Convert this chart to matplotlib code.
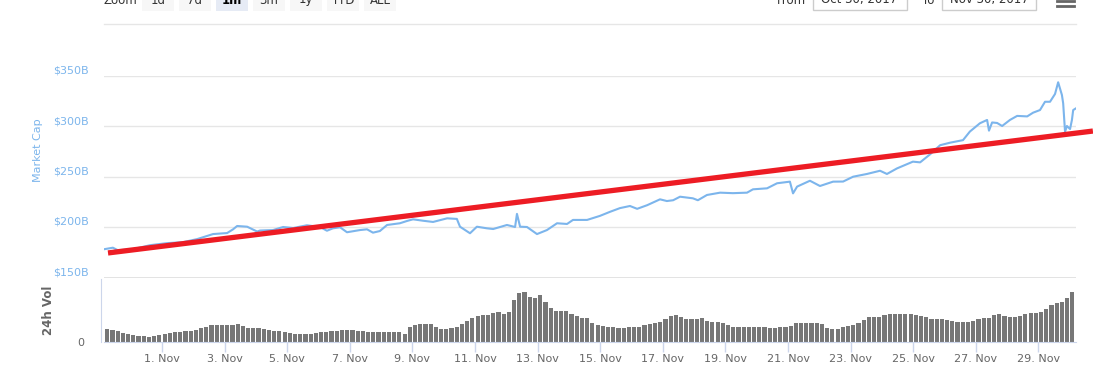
import matplotlib
matplotlib.use("Agg")
import matplotlib.pyplot as plt
import matplotlib.transforms as mtransforms
from matplotlib.patches import Rectangle

# total market cap ($B), x = days since 1 Nov 2017 00:00
cap_days = [-1.85, -1.57, -1.41, -0.93, -0.38, 0.16, 0.67, 1.12, 1.63, 1.85,
            2.08, 2.27, 2.40, 2.72, 3.04, 3.13, 3.55, 3.87, 4.19, 4.63,
            5.05, 5.27, 5.46, 5.69, 5.91, 6.33, 6.55, 6.74, 6.96, 7.19,
            7.60, 7.83, 8.02, 8.34, 8.66, 9.11, 9.42, 9.52, 9.84, 10.06,
            10.38, 10.58, 11.02, 11.28, 11.34, 11.44, 11.66, 11.98, 12.30, 12.62,
            12.94, 13.13, 13.58, 13.99, 14.31, 14.63, 14.95, 15.18, 15.50, 15.91,
            16.13, 16.33, 16.55, 16.96, 17.12, 17.41, 17.83, 18.24, 18.69, 18.88,
            19.33, 19.65, 20.06, 20.16, 20.29, 20.70, 21.02, 21.44, 21.76, 22.08,
            22.52, 22.94, 23.16, 23.48, 23.99, 24.22, 24.54, 24.86, 25.18, 25.59,
            25.81, 26.13, 26.36, 26.42, 26.52, 26.68, 26.84, 27.09, 27.32, 27.64,
            27.83, 28.05, 28.21, 28.37, 28.53, 28.63, 28.69, 28.75, 28.79, 28.85,
            28.91, 29.01, 29.07, 29.11, 29.20]
cap_values = [178.0, 179.5, 177.0, 178.0, 182.0, 184.0, 185.0, 188.0, 193.0, 193.5,
              194.0, 197.7, 201.0, 200.3, 195.5, 196.5, 197.0, 200.0, 199.0, 201.7,
              200.0, 196.3, 198.7, 199.7, 194.8, 197.0, 197.7, 194.4, 196.0, 202.0,
              203.7, 206.0, 207.6, 206.2, 205.0, 208.6, 208.0, 200.3, 193.8, 200.3,
              198.7, 198.0, 202.0, 200.0, 213.0, 200.3, 200.0, 193.0, 197.0, 203.7,
              203.0, 207.0, 207.0, 211.0, 215.0, 218.7, 220.8, 218.0, 221.6, 227.4,
              225.7, 226.5, 230.0, 228.4, 226.5, 231.7, 234.0, 233.5, 234.0, 237.3,
              238.3, 243.3, 244.9, 233.3, 240.0, 245.8, 240.6, 244.9, 245.0, 249.8,
              252.5, 255.7, 252.5, 258.0, 264.7, 264.0, 272.0, 281.0, 283.5, 286.0,
              294.5, 302.7, 306.0, 295.4, 303.5, 303.0, 300.0, 306.0, 310.0, 309.5,
              313.2, 315.8, 324.0, 324.0, 331.7, 343.3, 337.0, 330.7, 322.5, 294.3,
              300.0, 297.0, 306.0, 315.8, 317.5]

# 24h volume ($B), one bar every 4 hours from 30 Oct 04:00
vol_start = -1.8333
vol_step = 1 / 6
vol_values = [3.8, 3.5, 3.2, 2.7, 2.4, 2.1,
              1.8, 1.7, 1.5, 1.7, 2.1, 2.3,
              2.6, 2.9, 3.0, 3.3, 3.3, 3.6,
              4.1, 4.5, 5.0, 5.0, 5.0, 5.0,
              5.0, 5.3, 4.7, 4.1, 4.1, 4.1,
              3.9, 3.5, 3.2, 3.2, 3.0, 2.6,
              2.2, 2.2, 2.3, 2.3, 2.6, 2.8,
              3.0, 3.3, 3.3, 3.5, 3.5, 3.5,
              3.3, 3.2, 3.0, 3.0, 3.0, 3.0,
              3.0, 3.0, 2.9, 2.4, 4.5, 5.1,
              5.2, 5.2, 5.3, 4.5, 3.9, 3.8,
              4.1, 4.5, 5.4, 6.2, 7.1, 7.8,
              8.0, 8.0, 8.6, 8.8, 8.4, 9.0,
              12.6, 14.7, 15.0, 13.5, 13.2, 14.0,
              12.0, 10.2, 9.3, 9.3, 9.2, 8.4,
              7.8, 7.2, 7.1, 5.7, 5.0, 4.7,
              4.3, 4.3, 4.2, 4.2, 4.3, 4.3,
              4.4, 5.0, 5.4, 5.7, 6.0, 6.9,
              7.8, 8.0, 7.4, 6.8, 6.7, 6.7,
              7.0, 6.3, 5.8, 5.8, 5.7, 5.1,
              4.3, 4.3, 4.3, 4.3, 4.3, 4.3,
              4.3, 4.2, 4.2, 4.3, 4.3, 4.8,
              5.7, 5.7, 5.7, 5.7, 5.7, 5.4,
              4.2, 3.8, 3.9, 4.5, 4.8, 5.0,
              5.7, 6.6, 7.4, 7.4, 7.4, 8.0,
              8.3, 8.3, 8.3, 8.3, 8.3, 8.0,
              7.7, 7.4, 6.8, 6.8, 6.8, 6.5,
              6.2, 5.9, 5.9, 5.9, 6.3, 6.9,
              7.0, 7.2, 8.0, 8.3, 7.7, 7.4,
              7.4, 7.7, 8.3, 8.6, 8.7, 9.0,
              9.9, 11.0, 11.5, 11.9, 13.0, 14.9]

tick_days = [1, 3, 5, 7, 9, 11, 13, 15, 17, 19, 21, 23, 25, 27, 29]
tick_labels = [f"{d}. Nov" for d in tick_days]
cap_ticks = [150, 200, 250, 300, 350]
cap_labels = ["\\$150B", "\\$200B", "\\$250B", "\\$300B", "\\$350B"]

# hand-drawn red trend line (start / end)
trend_days = [-1.725, 29.74]
trend_values = [174.3, 295.0]

zoom_buttons = ["1d", "7d", "1m", "3m", "1y", "YTD", "ALL"]
date_from = "Oct 30, 2017"
date_to = "Nov 30, 2017"

W, H = 1093, 389
BLUE = "#7cb5ec"
AXIS = "#ccd6eb"
GRID = "#e6e6e6"
LABEL = "#666666"


def px(x, y):
    return x / W, 1 - y / H


fig = plt.figure(figsize=(W / 100, H / 100), dpi=100)
fig.patch.set_facecolor("white")

x_lo, x_hi = -1.853, 29.20

# --- market cap panel ---
ax = fig.add_axes([104 / W, 1 - 277.5 / H, 972 / W, 202 / H])
ax.plot(cap_days, cap_values, color=BLUE, lw=1.5, solid_joinstyle="round", zorder=3)
ax.set_xlim(x_lo, x_hi)
ax.set_ylim(150, 350)
ax.set_yticks(cap_ticks)
ax.set_yticklabels(cap_labels)
ax.set_xticks([])
ax.grid(axis="y", color=GRID, lw=1)
for s in ax.spines.values():
    s.set_visible(False)
ax.tick_params(axis="y", length=0, pad=10.8, labelsize=8, labelcolor=BLUE)
up = mtransforms.ScaledTranslation(0, 6 / 100, fig.dpi_scale_trans)
for t in ax.yaxis.get_major_ticks():
    t.label1.set_transform(t.label1.get_transform() + up)
ax.axhline(150, color="#e0e0e0", lw=2, zorder=1)

# red trend line, runs past the right edge
ax.plot(trend_days, trend_values, color="#ed1c24", lw=3.8,
        solid_capstyle="butt", clip_on=False, zorder=4)

# --- volume panel ---
vx = fig.add_axes([104 / W, 1 - 341.5 / H, 972 / W, 62.5 / H])
centers = [vol_start + (i + 0.5) * vol_step for i in range(len(vol_values))]
vx.bar(centers, vol_values, width=vol_step * 0.8, color="#777777", lw=0)
vx.set_xlim(x_lo, x_hi)
vx.set_ylim(0, 18.75)
vx.set_yticks([0])
vx.set_yticklabels(["0"])
vx.set_xticks([d - 1 for d in tick_days])
vx.set_xticklabels(tick_labels)
vx.tick_params(axis="x", length=7.2, width=1, color=AXIS, labelsize=8,
               labelcolor=LABEL, pad=1.5)
vx.tick_params(axis="y", length=0, pad=12.5, labelsize=8, labelcolor=LABEL)
for t in vx.yaxis.get_major_ticks():
    t.label1.set_transform(t.label1.get_transform() + up)
for k in ["top", "right"]:
    vx.spines[k].set_visible(False)
vx.spines["left"].set_color(AXIS)
vx.spines["bottom"].set_color(AXIS)
vx.spines["left"].set_position(("outward", 2))

fig.text(*px(38, 150), "Market Cap", rotation=90, color=BLUE, fontsize=8,
         ha="center", va="center")
fig.text(*px(49, 310), "24h Vol", rotation=90, color=LABEL, fontsize=8.5,
         fontweight="bold", ha="center", va="center")

# --- range selector strip (cut off at the top) ---
fig.add_artist(plt.Line2D([104 / W, 1076 / W], [1 - 23.5 / H] * 2,
                          color=GRID, lw=1, transform=fig.transFigure))
TOP_BASE = 3.5
fig.text(*px(103, TOP_BASE), "Zoom", color="#333333", fontsize=8.5,
         ha="left", va="baseline")
for i, b in enumerate(zoom_buttons):
    x0 = 142 + i * 37
    fc = "#e6ebf5" if b == "1m" else "#f7f7f7"
    fig.add_artist(Rectangle(px(x0, 10.7), 32 / W, 20 / H, facecolor=fc,
                             edgecolor="none", transform=fig.transFigure))
    fig.text(*px(x0 + 16, TOP_BASE), b, color="#000000" if b == "1m" else "#333333",
             fontsize=8.5, fontweight="bold" if b == "1m" else "normal",
             ha="center", va="baseline")

fig.text(*px(806, TOP_BASE), "From", color="#333333", fontsize=8.5,
         ha="right", va="baseline")
fig.text(*px(934, TOP_BASE), "To", color="#333333", fontsize=8.5,
         ha="right", va="baseline")
for x0, txt in [(813, date_from), (942, date_to)]:
    fig.add_artist(Rectangle(px(x0, 10.3), 94 / W, 20 / H, facecolor="white",
                             edgecolor="#cccccc", lw=1, transform=fig.transFigure))
    fig.text(*px(x0 + 8, TOP_BASE), txt, color="#333333", fontsize=8.5,
             ha="left", va="baseline")
for yy in [1.0, 5.5]:
    fig.add_artist(plt.Line2D([1057 / W, 1074 / W], [1 - yy / H] * 2,
                              color="#666666", lw=2, transform=fig.transFigure))

fig.savefig("out.png", dpi=100, facecolor="white")
